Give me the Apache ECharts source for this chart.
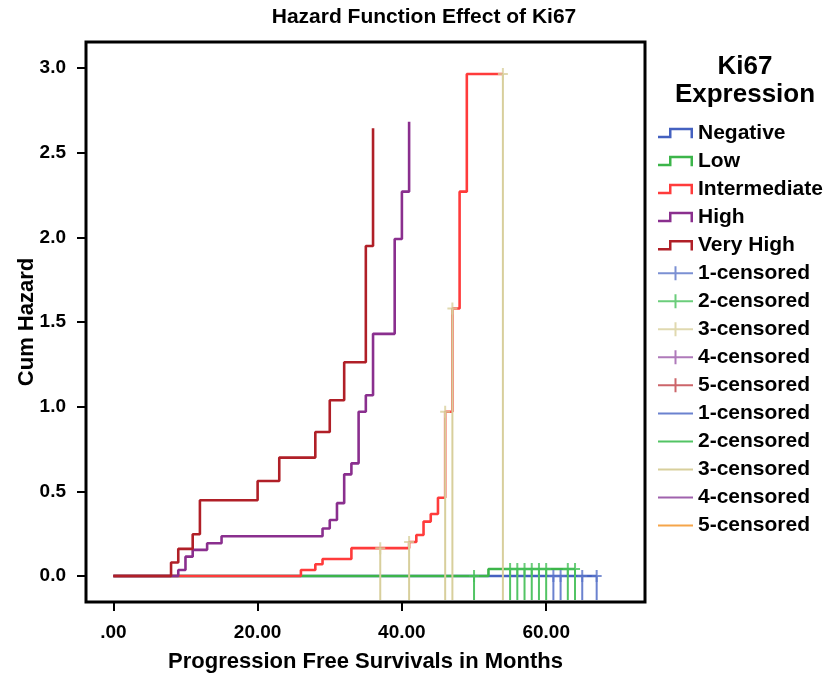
<!DOCTYPE html>
<html>
<head>
<meta charset="utf-8">
<script src="https://cdn.jsdelivr.net/npm/echarts@6/dist/echarts.min.js"></script>
<style>html,body{margin:0;padding:0;background:#fff}#c{width:828px;height:675px}</style>
</head>
<body>
<div id="c"></div>
<script>
// ---- data ----
const groupNames = ['Negative', 'Low', 'Intermediate', 'High', 'Very High'];
const negTime = [0, 67];
const negHaz  = [0, 0];
const lowTime = [0, 52, 64];
const lowHaz  = [0, 0.041, 0.041];
const intTime = [0, 26, 28, 29, 33, 41, 42, 43, 44, 45, 46, 47, 48, 49, 54];
const intHaz  = [0, 0.035, 0.069, 0.100, 0.164, 0.200, 0.242, 0.321, 0.366, 0.462, 0.970, 1.580, 2.270, 2.965, 2.965];
const highTime = [0, 9, 10, 11, 13, 15, 29, 30, 31, 32, 33, 34, 35, 36, 39, 40, 41];
const highHaz  = [0, 0.035, 0.114, 0.154, 0.193, 0.234, 0.280, 0.330, 0.430, 0.600, 0.665, 0.970, 1.067, 1.430, 1.990, 2.270, 2.683];
const vhTime = [0, 8, 9, 11, 12, 20, 23, 28, 30, 32, 35, 36];
const vhHaz  = [0, 0.079, 0.160, 0.246, 0.447, 0.561, 0.699, 0.850, 1.038, 1.262, 1.949, 2.644];

const cens1Time = [61, 62, 65, 67];
const cens1Haz  = [0, 0, 0, 0];
const cens2Time = [50, 55, 56, 57, 58, 59, 60, 63, 64];
const cens2Haz  = [0, 0.041, 0.041, 0.041, 0.041, 0.041, 0.041, 0.041, 0.041];
const cens3Time = [37, 41, 46, 47, 54];
const cens3Haz  = [0.164, 0.200, 0.970, 1.580, 2.965];
const cens4Time = [];
const cens4Haz  = [];
const cens5Time = [];
const cens5Haz  = [];

const xTicks = [0, 20, 40, 60];
const yTicks = [0, 0.5, 1.0, 1.5, 2.0, 2.5, 3.0];

// ---- styling ----
const FONT = 'Liberation Sans, Arial, sans-serif';
const X_MIN = -3.79, X_MAX = 73.7, Y_MIN = -0.154, Y_MAX = 3.154;
const stepColors = ['#4461c0', '#3cb54a', '#ff3b3b', '#8a2f8e', '#b01f27'];
const markColors = ['#5a74c8', '#46c15a', '#d8cf9c', '#9b59a9', '#bf3f45'];
const lineColors = ['#6b82cf', '#52c464', '#d8cf9c', '#a062ad', '#f5a54a'];

const stepIcon  = 'path://M0,8 L11,8 L11,0 L35,0 L35,10.5 L32.5,10.5 L32.5,2.5 L13.5,2.5 L13.5,10.5 L0,10.5 Z';
const crossIcon = 'path://M0,6 L35,6 L35,8 L0,8 Z M16.5,0 L18.5,0 L18.5,14 L16.5,14 Z';
const lineIcon  = 'path://M0,6 L35,6 L35,8 L0,8 Z M17,0 L17,0.01 M17,14 L17,13.99';
const markSymbol = 'path://M0,5 L10,5 L10,7 L0,7 Z M4,0 L6,0 L6,12 L4,12 Z';

const zip = (a, b) => a.map((v, i) => [v, b[i]]);
const stepData = [zip(negTime, negHaz), zip(lowTime, lowHaz), zip(intTime, intHaz), zip(highTime, highHaz), zip(vhTime, vhHaz)];
const censData = [zip(cens1Time, cens1Haz), zip(cens2Time, cens2Haz), zip(cens3Time, cens3Haz), zip(cens4Time, cens4Haz), zip(cens5Time, cens5Haz)];

const series = [];
const legendData = [];
groupNames.forEach((n, i) => {
  series.push({
    name: n, type: 'line', step: 'end', data: stepData[i], symbol: 'none',
    lineStyle: {color: stepColors[i], width: 2.6}, itemStyle: {color: stepColors[i]}, z: 2
  });
  legendData.push({name: n, icon: stepIcon});
});
for (let i = 0; i < 5; i++) {
  const nm = (i + 1) + '-censored#m';
  series.push({
    name: nm, type: 'scatter', data: censData[i], symbol: markSymbol, symbolSize: [10, 12],
    itemStyle: {color: markColors[i]}, z: 4
  });
  legendData.push({name: nm, icon: crossIcon});
}
for (let i = 0; i < 5; i++) {
  const nm = (i + 1) + '-censored#l';
  series.push({
    name: nm, type: 'custom', data: censData[i], itemStyle: {color: lineColors[i]}, z: 3,
    renderItem: function (params, api) {
      const p = api.coord([api.value(0), api.value(1)]);
      const cs = params.coordSys;
      return {type: 'line', shape: {x1: p[0], y1: p[1], x2: p[0], y2: cs.y + cs.height - 2},
              style: {stroke: api.visual('color'), lineWidth: 2}};
    }
  });
  legendData.push({name: nm, icon: lineIcon});
}

const chart = echarts.init(document.getElementById('c'), null, {renderer: 'canvas'});
chart.setOption({
  animation: false,
  backgroundColor: '#fff',
  title: [
    {text: 'Hazard Function Effect of Ki67', left: 424, top: 7, textAlign: 'center', padding: 0,
     textStyle: {fontFamily: FONT, fontSize: 21, fontWeight: 'bold', color: '#000'}},
    {text: 'Ki67\nExpression', left: 745, top: 53, textAlign: 'center', padding: 0,
     textStyle: {fontFamily: FONT, fontSize: 26, fontWeight: 'bold', color: '#000', lineHeight: 28}}
  ],
  legend: {
    orient: 'vertical', left: 658, top: 121, padding: 0,
    itemWidth: 35, itemHeight: 14, itemGap: 4.04,
    data: legendData,
    itemStyle: {borderWidth: 0},
    formatter: name => name.replace(/#.*$/, ''),
    textStyle: {fontFamily: FONT, fontSize: 21, fontWeight: 'bold', color: '#000', lineHeight: 24},
    selectedMode: false
  },
  grid: {left: 86, right: 183, top: 42, bottom: 73, show: true, borderColor: '#000', borderWidth: 3,
         backgroundColor: 'transparent', containLabel: false, outerBoundsMode: 'none'},
  xAxis: {
    type: 'value', min: X_MIN, max: X_MAX,
    name: 'Progression Free Survivals in Months', nameLocation: 'middle', nameGap: 49, nameMoveOverlap: false,
    nameTextStyle: {fontFamily: FONT, fontSize: 22, fontWeight: 'bold', color: '#000'},
    axisLine: {show: false, onZero: false},
    axisTick: {show: true, customValues: xTicks, length: 9, lineStyle: {color: '#000', width: 2}},
    axisLabel: {customValues: xTicks, margin: 21, fontFamily: FONT, fontSize: 19, fontWeight: 'bold', color: '#000',
                formatter: v => v === 0 ? '.00' : v.toFixed(2)},
    splitLine: {show: false}
  },
  yAxis: {
    type: 'value', min: Y_MIN, max: Y_MAX,
    name: 'Cum Hazard', nameLocation: 'middle', nameGap: 48, nameMoveOverlap: false,
    nameTextStyle: {fontFamily: FONT, fontSize: 22, fontWeight: 'bold', color: '#000'},
    axisLine: {show: false, onZero: false},
    axisTick: {show: true, customValues: yTicks, length: 9, lineStyle: {color: '#000', width: 2}},
    axisLabel: {customValues: yTicks, margin: 20, fontFamily: FONT, fontSize: 19, fontWeight: 'bold', color: '#000',
                formatter: v => v.toFixed(1)},
    splitLine: {show: false}
  },
  series: series
});
</script>
</body>
</html>
